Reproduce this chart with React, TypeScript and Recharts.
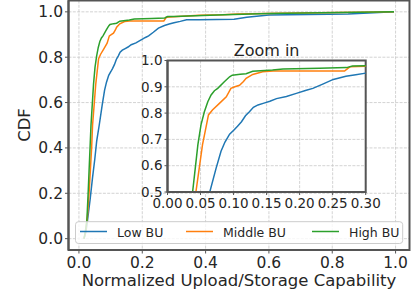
import React from 'react';
import { LineChart, Line, XAxis, YAxis, CartesianGrid, ReferenceArea } from 'recharts';

type Pt = { x: number; y: number };

const lowBU: Pt[] = [
  { x: 0.016, y: 0.0 }, { x: 0.022, y: 0.03 }, { x: 0.027, y: 0.08 }, { x: 0.035, y: 0.17 },
  { x: 0.043, y: 0.27 }, { x: 0.05, y: 0.35 }, { x: 0.056, y: 0.43 }, { x: 0.064, y: 0.5 },
  { x: 0.0735, y: 0.59 }, { x: 0.081, y: 0.655 }, { x: 0.087, y: 0.69 }, { x: 0.094, y: 0.72 },
  { x: 0.101, y: 0.737 }, { x: 0.106, y: 0.75 }, { x: 0.112, y: 0.767 }, { x: 0.118, y: 0.79 },
  { x: 0.124, y: 0.805 }, { x: 0.13, y: 0.822 }, { x: 0.137, y: 0.831 }, { x: 0.146, y: 0.838 },
  { x: 0.155, y: 0.845 }, { x: 0.165, y: 0.855 }, { x: 0.18, y: 0.863 }, { x: 0.195, y: 0.875 },
  { x: 0.21, y: 0.887 }, { x: 0.22, y: 0.894 }, { x: 0.235, y: 0.91 }, { x: 0.251, y: 0.928 },
  { x: 0.27, y: 0.94 }, { x: 0.285, y: 0.946 }, { x: 0.3, y: 0.952 }, { x: 0.32, y: 0.958 },
  { x: 0.34, y: 0.965 }, { x: 0.38, y: 0.965 }, { x: 0.49, y: 0.967 }, { x: 0.53, y: 0.976 },
  { x: 0.6, y: 0.986 }, { x: 0.85, y: 0.991 }, { x: 0.995, y: 1.0 },
];

const middleBU: Pt[] = [
  { x: 0.016, y: 0.0 }, { x: 0.021, y: 0.03 }, { x: 0.027, y: 0.1 }, { x: 0.032, y: 0.2 },
  { x: 0.036, y: 0.3 }, { x: 0.04, y: 0.4 }, { x: 0.043, y: 0.5 }, { x: 0.048, y: 0.59 },
  { x: 0.053, y: 0.68 }, { x: 0.059, y: 0.755 }, { x: 0.062, y: 0.793 }, { x: 0.068, y: 0.812 },
  { x: 0.0786, y: 0.837 }, { x: 0.089, y: 0.862 }, { x: 0.096, y: 0.894 }, { x: 0.102, y: 0.9 },
  { x: 0.109, y: 0.906 }, { x: 0.115, y: 0.92 }, { x: 0.119, y: 0.932 }, { x: 0.129, y: 0.947 },
  { x: 0.144, y: 0.957 }, { x: 0.16, y: 0.96 }, { x: 0.268, y: 0.96 }, { x: 0.276, y: 0.976 },
  { x: 0.3, y: 0.978 }, { x: 0.38, y: 0.985 }, { x: 0.455, y: 0.987 }, { x: 0.5, y: 0.99 },
  { x: 0.635, y: 0.994 }, { x: 0.995, y: 1.0 },
];

const highBU: Pt[] = [
  { x: 0.016, y: 0.0 }, { x: 0.02, y: 0.03 }, { x: 0.025, y: 0.08 }, { x: 0.029, y: 0.2 },
  { x: 0.032, y: 0.3 }, { x: 0.035, y: 0.4 }, { x: 0.038, y: 0.5 }, { x: 0.042, y: 0.59 },
  { x: 0.046, y: 0.68 }, { x: 0.0507, y: 0.755 }, { x: 0.0558, y: 0.805 }, { x: 0.061, y: 0.843 },
  { x: 0.066, y: 0.869 }, { x: 0.071, y: 0.885 }, { x: 0.076, y: 0.894 }, { x: 0.086, y: 0.919 },
  { x: 0.094, y: 0.938 }, { x: 0.098, y: 0.944 }, { x: 0.11, y: 0.948 }, { x: 0.119, y: 0.95 },
  { x: 0.129, y: 0.959 }, { x: 0.159, y: 0.964 }, { x: 0.175, y: 0.968 }, { x: 0.23, y: 0.971 },
  { x: 0.271, y: 0.973 }, { x: 0.28, y: 0.979 }, { x: 0.3, y: 0.98 }, { x: 0.46, y: 0.987 },
  { x: 0.6, y: 0.993 }, { x: 0.995, y: 1.0 },
];

const seriesNames = ['Low BU', 'Middle BU', 'High BU'];
const seriesColors = ['#1f77b4', '#ff7f0e', '#2ca02c'];
const seriesData = [lowBU, middleBU, highBU];

const mainXTicks = [0, 0.2, 0.4, 0.6, 0.8, 1.0];
const mainYTicks = [0, 0.2, 0.4, 0.6, 0.8, 1.0];
const insetXTicks = [0, 0.05, 0.1, 0.15, 0.2, 0.25, 0.3];
const insetYTicks = [0.5, 0.6, 0.7, 0.8, 0.9, 1.0];

const FONT = 'DejaVu Sans';
const TEXT = '#262626';
const SPINE = '#555';
const GRID = '#c8c8c8';

const mainX: [number, number] = [-0.033, 1.044];
const mainY: [number, number] = [-0.05, 1.05];
const insetX: [number, number] = [0, 0.3];
const insetY: [number, number] = [0.5, 1.0];

const legendX = [80, 186, 312];

export default function App() {
  const abs: React.CSSProperties = { position: 'absolute', left: 0, top: 0 };
  return (
    <div style={{ position: 'absolute', left: 0, top: 0, width: 414, height: 298, fontFamily: FONT, background: '#fff' }}>
      <div style={abs}>
        <LineChart width={414} height={298} margin={{ top: 0.5, right: 4.5, bottom: 18, left: 8.5 }}>
          <CartesianGrid stroke={GRID} strokeWidth={0.8} strokeDasharray="3 1.3" />
          <XAxis
            type="number" dataKey="x" domain={mainX} ticks={mainXTicks} interval={0} allowDataOverflow
            height={30} tickSize={3.5} tickMargin={3.5}
            tickFormatter={(v: number) => v.toFixed(1)}
            tick={{ fontSize: 15.5, fill: TEXT, fontFamily: FONT }}
            tickLine={{ stroke: SPINE, strokeWidth: 1 }}
            axisLine={{ stroke: SPINE, strokeWidth: 2 }}
          />
          <YAxis
            type="number" dataKey="y" domain={mainY} ticks={mainYTicks} interval={0} allowDataOverflow
            width={60} tickSize={3.5} tickMargin={2}
            tickFormatter={(v: number) => v.toFixed(1)}
            tick={{ fontSize: 15.5, fill: TEXT, fontFamily: FONT }}
            tickLine={{ stroke: SPINE, strokeWidth: 1 }}
            axisLine={{ stroke: SPINE, strokeWidth: 2 }}
          />
          {seriesData.map((d, i) => (
            <Line key={seriesNames[i]} data={d} dataKey="y" type="linear" stroke={seriesColors[i]}
              strokeWidth={1.5} dot={false} isAnimationActive={false} />
          ))}
          <ReferenceArea x1={mainX[0]} x2={mainX[1]} y1={mainY[0]} y2={mainY[1]}
            fill="none" fillOpacity={0} stroke={SPINE} strokeWidth={2} />
        </LineChart>
      </div>
      <div style={abs}>
        <LineChart width={414} height={298} margin={{ top: 60.5, right: 48.3, bottom: 76, left: 127.5 }}>
          <CartesianGrid fill="#ffffff" fillOpacity={1} stroke={GRID} strokeWidth={0.8} strokeDasharray="3 1.3" />
          <XAxis
            type="number" dataKey="x" domain={insetX} ticks={insetXTicks} interval={0} allowDataOverflow
            height={30} tickSize={3} tickMargin={3}
            tickFormatter={(v: number) => v.toFixed(2)}
            tick={{ fontSize: 13.5, fill: TEXT, fontFamily: FONT }}
            tickLine={{ stroke: SPINE, strokeWidth: 1 }}
            axisLine={{ stroke: SPINE, strokeWidth: 2 }}
          />
          <YAxis
            type="number" dataKey="y" domain={insetY} ticks={insetYTicks} interval={0} allowDataOverflow
            width={40} tickSize={3} tickMargin={2}
            tickFormatter={(v: number) => v.toFixed(1)}
            tick={{ fontSize: 13.5, fill: TEXT, fontFamily: FONT }}
            tickLine={{ stroke: SPINE, strokeWidth: 1 }}
            axisLine={{ stroke: SPINE, strokeWidth: 2 }}
          />
          {seriesData.map((d, i) => (
            <Line key={seriesNames[i]} data={d} dataKey="y" type="linear" stroke={seriesColors[i]}
              strokeWidth={1.5} dot={false} isAnimationActive={false} />
          ))}
          <ReferenceArea x1={insetX[0]} x2={insetX[1]} y1={insetY[0]} y2={insetY[1]}
            fill="none" fillOpacity={0} stroke={SPINE} strokeWidth={2} />
        </LineChart>
      </div>
      <svg width={414} height={298} style={{ ...abs, pointerEvents: 'none' }}>
        <text x={266.6} y={56} textAnchor="middle" fontSize={16} fill={TEXT} fontFamily={FONT}>Zoom in</text>
        <text x={239} y={286} textAnchor="middle" fontSize={16.5} fill={TEXT} fontFamily={FONT}>
          Normalized Upload/Storage Capability
        </text>
        <text x={29.5} y={125} textAnchor="middle" fontSize={16.5} fill={TEXT} fontFamily={FONT}
          transform="rotate(-90 29.5 125)">CDF</text>
        <rect x={75.5} y={221.7} width={327.2} height={21.8} rx={3} ry={3}
          fill="#fff" fillOpacity={0.8} stroke="#cccccc" strokeWidth={1} />
        {seriesNames.map((n, i) => (
          <g key={n}>
            <line x1={legendX[i]} x2={legendX[i] + 27} y1={231.5} y2={231.5} stroke={seriesColors[i]} strokeWidth={1.5} />
            <text x={legendX[i] + 37} y={236.5} fontSize={12.5} fill={TEXT} fontFamily={FONT}>{n}</text>
          </g>
        ))}
      </svg>
    </div>
  );
}
